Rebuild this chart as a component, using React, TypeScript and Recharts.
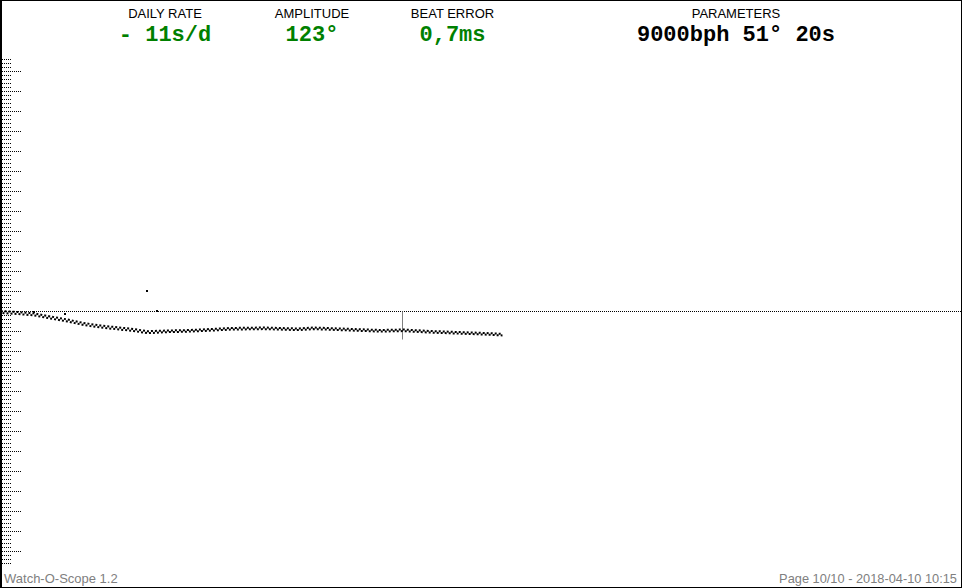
import {
  ComposedChart,
  Line,
  Scatter,
  XAxis,
  YAxis,
  ReferenceLine,
} from "recharts";

// readout header
const headerLabels = ["DAILY RATE", "AMPLITUDE", "BEAT ERROR", "PARAMETERS"];
const headerValues = ["- 11s/d", "123°", "0,7ms", "9000bph 51° 20s"];

// trace, sampled along the page (x in page units, y in ms-ish units, 1 unit = one long tick)
const traceX = [0, 17, 33, 50, 67, 83, 100, 117, 133, 147, 167, 183, 200, 230, 263, 297, 313, 347, 380, 402, 430, 463, 480, 502];
const tickY = [0.025, -0.025, -0.09, -0.25, -0.4, -0.575, -0.7, -0.79, -0.875, -0.985, -0.95, -0.935, -0.9, -0.825, -0.8, -0.85, -0.8, -0.865, -0.925, -0.9, -0.975, -1.035, -1.065, -1.115];
const tockY = [-0.075, -0.125, -0.19, -0.35, -0.5, -0.675, -0.8, -0.89, -0.975, -1.085, -1.03, -1.015, -0.98, -0.905, -0.88, -0.93, -0.88, -0.945, -1.005, -0.98, -1.055, -1.115, -1.145, -1.195];

// stray beats
const strayX = [34, 64, 146, 156];
const strayY = [0, -0.125, 1.025, 0.025];

// cursor
const markerX = 402;
const markerDepth = -1.4;

const footerLeft = "Watch-O-Scope 1.2";
const footerRight = "Page 10/10 - 2018-04-10 10:15";

const tickData = traceX.map((x, i) => ({ x, y: tickY[i] }));
const tockData = traceX.map((x, i) => ({ x, y: tockY[i] }));
const strayData = strayX.map((x, i) => ({ x, y: strayY[i] }));

const Y_MAX = 12.6;
// scale marks every 0.2, long mark every 1.0
const scaleMarks = Array.from({ length: 127 }, (_, i) => i - 63);

const Dot = (props: any) => {
  const { cx, cy } = props;
  return <rect x={Math.round(cx) - 1} y={Math.round(cy) - 1} width={2} height={2} fill="#000" />;
};

export default function App() {
  const labelX = [165, 312, 452.5, 736];
  return (
    <div
      style={{
        position: "absolute",
        left: 0,
        top: 0,
        width: 962,
        height: 588,
        background: "#fff",
      }}
    >
      <ComposedChart
        width={962}
        height={588}
        margin={{ top: 59.5, right: 0.5, bottom: 24.5, left: 0.5 }}
        style={{ position: "absolute", left: 0, top: 0 }}
      >
        <XAxis type="number" dataKey="x" domain={[0, 961]} hide />
        <YAxis type="number" dataKey="y" domain={[-Y_MAX, Y_MAX]} hide />
        {scaleMarks.map((k) => (
          <ReferenceLine
            key={k}
            segment={[
              { x: 1.5, y: k / 5 },
              { x: k % 5 === 0 ? 20.5 : 10.5, y: k / 5 },
            ]}
            stroke="#000"
            strokeDasharray="1 1"
          />
        ))}
        <ReferenceLine
          segment={[
            { x: 1.5, y: 0 },
            { x: 961, y: 0 },
          ]}
          stroke="#000"
          strokeDasharray="1 1"
        />
        <ReferenceLine
          segment={[
            { x: markerX, y: 0 },
            { x: markerX, y: markerDepth },
          ]}
          stroke="#808080"
        />
        <Line
          data={tickData}
          dataKey="y"
          type="linear"
          stroke="#000"
          strokeWidth={2}
          strokeDasharray="2 2"
          dot={false}
          isAnimationActive={false}
        />
        <Line
          data={tockData}
          dataKey="y"
          type="linear"
          stroke="#000"
          strokeWidth={2}
          strokeDasharray="2 2"
          strokeDashoffset={2}
          dot={false}
          isAnimationActive={false}
        />
        <Scatter data={strayData} dataKey="y" shape={<Dot />} isAnimationActive={false} />
      </ComposedChart>

      <svg
        width={962}
        height={588}
        style={{ position: "absolute", left: 0, top: 0, pointerEvents: "none" }}
      >
        {headerLabels.map((t, i) => (
          <text
            key={t}
            x={labelX[i]}
            y={18}
            textAnchor="middle"
            fontFamily="'Liberation Sans', Arial, sans-serif"
            fontSize={13}
            fill="#000"
          >
            {t}
          </text>
        ))}
        {headerValues.map((t, i) => (
          <text
            key={t}
            x={labelX[i]}
            y={41}
            textAnchor="middle"
            fontFamily="'Liberation Mono', 'Courier New', monospace"
            fontWeight="bold"
            fontSize={22}
            fill={i === 3 ? "#000" : "#008000"}
          >
            {t}
          </text>
        ))}
        <text
          x={4}
          y={583}
          fontFamily="'Liberation Sans', Arial, sans-serif"
          fontSize={13}
          fill="#808080"
        >
          {footerLeft}
        </text>
        <text
          x={957}
          y={583}
          textAnchor="end"
          fontFamily="'Liberation Sans', Arial, sans-serif"
          fontSize={12.8}
          fill="#808080"
        >
          {footerRight}
        </text>
      </svg>

      <div
        style={{
          position: "absolute",
          left: 0,
          top: 0,
          width: 962,
          height: 588,
          boxSizing: "border-box",
          border: "1px solid #000",
          borderLeftWidth: 2,
          pointerEvents: "none",
        }}
      />
    </div>
  );
}
